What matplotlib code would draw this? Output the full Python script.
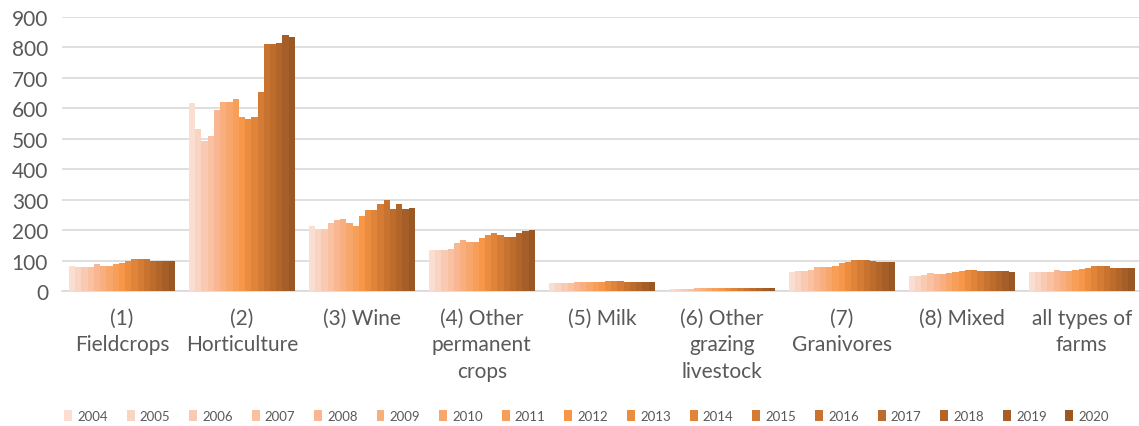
import numpy as np
import matplotlib.pyplot as plt
from matplotlib.colors import LinearSegmentedColormap

categorias = ["(1)\nFieldcrops", "(2)\nHorticulture", "(3) Wine",
              "(4) Other\npermanent\ncrops", "(5) Milk",
              "(6) Other\ngrazing\nlivestock", "(7)\nGranivores",
              "(8) Mixed", "all types of\nfarms"]
anos = [str(a) for a in range(2004, 2021)]

# valores por categoria, um por ano (2004..2020)
fieldcrops = [83, 80, 80, 80, 88, 83, 83, 88, 92, 100, 104, 104, 104, 100, 100, 100, 100]
horticulture = [619, 533, 492, 510, 595, 622, 622, 631, 570, 565, 570, 654, 812, 812, 816, 840, 835]
wine = [213, 205, 205, 225, 234, 237, 225, 213, 246, 266, 266, 286, 298, 270, 286, 270, 274]
other_perm = [134, 134, 134, 138, 158, 167, 162, 162, 175, 183, 191, 183, 179, 179, 191, 196, 202]
milk = [26, 26, 26, 26, 30, 30, 30, 30, 30, 34, 34, 34, 30, 30, 30, 30, 30]
other_grazing = [8, 8, 8, 8, 9, 9, 9, 9, 9, 9, 9, 9, 9, 9, 9, 10, 10]
granivores = [62, 66, 66, 70, 78, 78, 78, 83, 91, 96, 101, 101, 101, 98, 96, 96, 96]
mixed = [49, 49, 53, 58, 55, 55, 58, 63, 66, 69, 69, 66, 66, 66, 66, 66, 62]
all_types = [61, 61, 61, 61, 69, 66, 66, 69, 73, 77, 81, 81, 81, 77, 77, 77, 77]

dados = np.array([fieldcrops, horticulture, wine, other_perm, milk,
                  other_grazing, granivores, mixed, all_types])

CINZA = "#595959"
GRADE = "#D9D9D9"

cmap = LinearSegmentedColormap.from_list(
    "laranja", ["#FBDED2", "#F8B692", "#F79646", "#C9732F", "#9A5824"])
cores = [cmap(i / (len(anos) - 1)) for i in range(len(anos))]

plt.rcParams["font.family"] = ["Lato", "DejaVu Sans"]

fig = plt.figure(figsize=(11.39, 4.27), dpi=100)
# o eixo passa um pouco da borda direita, como no original
ax = fig.add_axes([0.0544, 0.316, 0.948, 0.642])

x = np.arange(len(categorias))
grupo = 0.883
largura = grupo / len(anos)
for i, ano in enumerate(anos):
    pos = x - grupo / 2 + largura * (i + 0.5)
    ax.bar(pos, dados[:, i], largura, color=cores[i], label=ano,
           edgecolor="none", zorder=3)

ax.set_xlim(-0.5, len(categorias) - 0.5)
ax.set_ylim(0, 900)
ax.set_yticks(range(0, 901, 100))
ax.grid(axis="y", color=GRADE, linewidth=1.2, zorder=0)
ax.set_xticks(x)
ax.set_xticklabels(categorias, fontsize=15, color=CINZA, linespacing=1.4,
                   va="top")
ax.tick_params(axis="y", labelsize=15, labelcolor=CINZA, length=0, pad=10)
ax.tick_params(axis="x", length=0, pad=12)
ax.spines[["top", "right", "left"]].set_visible(False)
ax.spines["bottom"].set_color(GRADE)
ax.spines["bottom"].set_linewidth(1.2)

fig.legend(loc="lower center", ncol=len(anos), bbox_to_anchor=(0.515, -0.018),
           frameon=False, fontsize=9.5, labelcolor=CINZA, handlelength=0.6,
           handleheight=0.9, handletextpad=0.4, columnspacing=1.42)

fig.savefig("out.png", dpi=100)
